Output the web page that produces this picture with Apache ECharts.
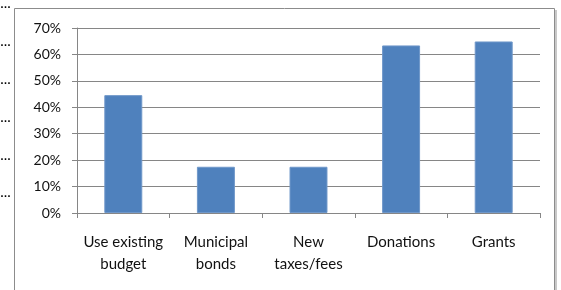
<!DOCTYPE html>
<html>
<head>
<meta charset="utf-8">
<script src="https://cdn.jsdelivr.net/npm/echarts@6/dist/echarts.min.js"></script>
<style>
html,body{margin:0;padding:0;background:#fff;}
#chart{width:561px;height:290px;}
</style>
</head>
<body>
<div id="chart"></div>
<script>
const categories = ['Use existing\nbudget', 'Municipal\nbonds', 'New\ntaxes/fees', 'Donations', 'Grants'];
const values = [44.6, 17.5, 17.5, 63.4, 64.9];
const yTicks = [0, 10, 20, 30, 40, 50, 60, 70];

const chart = echarts.init(document.getElementById('chart'));
const font = 'Lato, "Open Sans", sans-serif';

let option = {
  animation: false,
  graphic: [
    // outer chart frame
    { type: 'rect', shape: { x: 14.5, y: 8.5, width: 540, height: 290 },
      style: { fill: 'none', stroke: '#8c8c8c', lineWidth: 1 } },
    { type: 'line', shape: { x1: 556, y1: 10, x2: 556, y2: 290 },
      style: { stroke: '#c8c8c8', lineWidth: 2 } },
    // stray dots on the left edge
    ...[8, 46, 84, 122, 160, 197].map(y => ({
      type: 'text', left: 0, top: y - 9,
      style: { text: '…', font: 'bold 11px sans-serif', fill: '#000' }
    }))
  ],
  grid: { left: 77, right: 21, top: 28, bottom: 77, containLabel: false },
  xAxis: {
    type: 'category',
    data: categories,
    axisLine: { lineStyle: { color: '#868686' } },
    axisTick: { show: true, length: 5, alignWithLabel: false, lineStyle: { color: '#868686' } },
    axisLabel: { color: '#111', fontFamily: font, fontSize: 15, lineHeight: 22, margin: 18, interval: 0 }
  },
  yAxis: {
    type: 'value',
    min: 0, max: 70, interval: 10,
    axisLine: { show: true, lineStyle: { color: '#868686' } },
    axisTick: { show: true, length: 5, lineStyle: { color: '#868686' } },
    splitLine: { lineStyle: { color: '#868686' } },
    axisLabel: { color: '#111', fontFamily: font, fontSize: 14, margin: 16,
      formatter: v => yTicks.includes(v) ? v + '%' : '' }
  },
  series: [{
    type: 'bar',
    data: values,
    barWidth: '41%',
    itemStyle: { color: '#4f81bd', borderColor: '#6f97c9', borderWidth: 1 }
  }]
};
chart.setOption(option);
</script>
</body>
</html>
